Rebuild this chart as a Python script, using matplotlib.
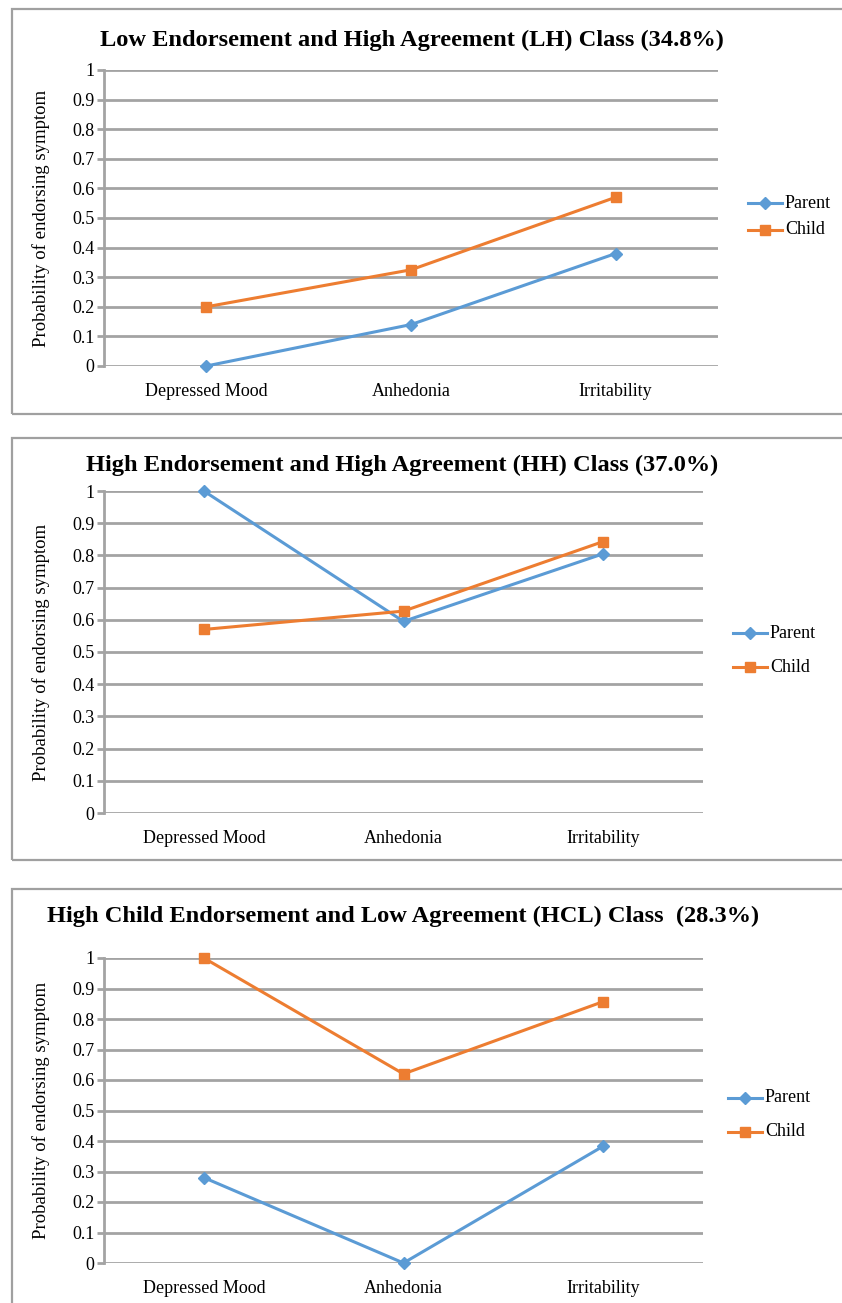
import matplotlib
matplotlib.use("Agg")
import matplotlib.pyplot as plt
from matplotlib.patches import Rectangle

categories = ["Depressed Mood", "Anhedonia", "Irritability"]
titles = [
    "Low Endorsement and High Agreement (LH) Class (34.8%)",
    "High Endorsement and High Agreement (HH) Class (37.0%)",
    "High Child Endorsement and Low Agreement (HCL) Class  (28.3%)",
]
parent_lh = [0.0, 0.14, 0.38]
child_lh = [0.20, 0.325, 0.57]
parent_hh = [1.0, 0.595, 0.805]
child_hh = [0.57, 0.627, 0.843]
parent_hcl = [0.28, 0.0, 0.383]
child_hcl = [1.0, 0.62, 0.857]
yticks = [0, 0.1, 0.2, 0.3, 0.4, 0.5, 0.6, 0.7, 0.8, 0.9, 1]
ytick_labels = ["0", "0.1", "0.2", "0.3", "0.4", "0.5", "0.6", "0.7", "0.8", "0.9", "1"]

W, H = 842, 1303
plt.rcParams['font.family'] = ['Liberation Serif', 'DejaVu Serif']
fig = plt.figure(figsize=(W / 100, H / 100), dpi=100)

BLUE = "#5B9BD5"
ORANGE = "#ED7D31"
GRID = "#A3A3A3"

panels = [
    dict(box=(9, 414), ax=(104, 718, 70, 366), tx=100, ty=46, leg=(203, 230), lx=748,
         title=titles[0], parent=parent_lh, child=child_lh),
    dict(box=(438, 860), ax=(104, 703, 491, 813), tx=86, ty=471, leg=(633, 667), lx=733,
         title=titles[1], parent=parent_hh, child=child_hh),
    dict(box=(889, 1320), ax=(104, 703, 958, 1263), tx=47, ty=922, leg=(1098, 1132), lx=728,
         title=titles[2], parent=parent_hcl, child=child_hcl),
]


def fx(px):
    return px / W


def fy(py):
    return 1 - py / H


for p in panels:
    bt, bb = p["box"]
    fig.patches.append(Rectangle((fx(12), fy(bb)), fx(860) - fx(12), fy(bt) - fy(bb),
                                 transform=fig.transFigure, fill=False,
                                 edgecolor="#A0A0A0", linewidth=1.6))
    l, r, y1, y0 = p["ax"]
    ax = fig.add_axes([fx(l), fy(y0), fx(r) - fx(l), fy(y1) - fy(y0)])
    x = list(range(len(categories)))
    lp, = ax.plot(x, p["parent"], color=BLUE, lw=2.2, marker="D", ms=6, label="Parent",
                  clip_on=False, zorder=3)
    lc, = ax.plot(x, p["child"], color=ORANGE, lw=2.2, marker="s", ms=7, label="Child",
                  clip_on=False, zorder=4)
    ax.set_xlim(-0.5, 2.5)
    ax.set_ylim(0, 1)
    ax.set_yticks(yticks)
    ax.set_yticklabels(ytick_labels)
    ax.set_xticks(x)
    ax.set_xticklabels(categories)
    ax.grid(axis="y", color=GRID, lw=2)
    ax.set_axisbelow(True)
    for s in ["top", "right", "bottom"]:
        ax.spines[s].set_visible(False)
    ax.spines["left"].set_color(GRID)
    ax.spines["left"].set_linewidth(2)
    ax.tick_params(axis="y", length=5, width=2, color=GRID, labelsize=13, pad=2)
    ax.tick_params(axis="x", length=0, labelsize=13, pad=12)
    ax.set_ylabel("Probability of endorsing symptom", fontsize=13.5, labelpad=16)
    fig.text(fx(p["tx"]), fy(p["ty"]), p["title"], ha="left", va="baseline",
             fontsize=17.6, fontweight="bold")
    lx = p["lx"]
    for (yy, line, lab, mk, ms) in [(p["leg"][0], lp, "Parent", "D", 6),
                                    (p["leg"][1], lc, "Child", "s", 7)]:
        fig.lines.append(plt.Line2D([fx(lx), fx(lx + 34)], [fy(yy), fy(yy)],
                                    transform=fig.transFigure, color=line.get_color(), lw=2.2))
        fig.lines.append(plt.Line2D([fx(lx + 17)], [fy(yy)], transform=fig.transFigure,
                                    color=line.get_color(), marker=mk, ms=ms, lw=0))
        fig.text(fx(lx + 37), fy(yy), lab, ha="left", va="center", fontsize=13)

fig.savefig("out.png", dpi=100)
